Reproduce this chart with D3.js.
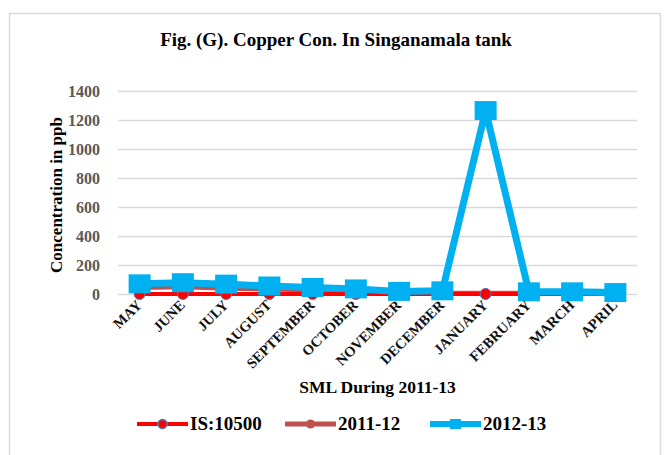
<!DOCTYPE html>
<html>
<head>
<meta charset="utf-8">
<script src="https://cdn.jsdelivr.net/npm/d3@7"></script>
<style>
body { margin: 0; background: #fff; }
text { font-family: "Liberation Serif", "Times New Roman", serif; font-weight: bold; }
</style>
</head>
<body>
<svg id="chart"></svg>
<script>
var width = 667;
var height = 455;

// data
var months = ["MAY","JUNE","JULY","AUGUST","SEPTEMBER","OCTOBER","NOVEMBER",
              "DECEMBER","JANUARY","FEBRUARY","MARCH","APRIL"];
var isLimit = [0.05,0.05,0.05,0.05,0.05,0.05,0.05,0.05,0.05,0.05,0.05,0.05];
var y2011 = [45,50,40,35,28,12,5,5,5,5,5,5];
var y2012 = [70,78,68,55,45,35,18,22,1265,15,15,10];
var yTicks = [0,200,400,600,800,1000,1200,1400];
var seriesNames = ["IS:10500","2011-12","2012-13"];
var seriesColors = ["#FF0000","#C0504D","#00B0F0"];

var margin = {left: 118, right: 30, top: 91, bottom: 161};

var svg = d3.select("#chart")
	.attr("width", width)
	.attr("height", height);

svg.append("rect")
	.attr("x", 9.5).attr("y", 13.5)
	.attr("width", 651).attr("height", 460)
	.attr("fill", "#fff")
	.attr("stroke", "#d9d9d9")
	.attr("stroke-width", 1.5);

var x = d3.scaleBand()
	.domain(months)
	.range([margin.left, width - margin.right]);

var y = d3.scaleLinear()
	.domain([0, 1400])
	.range([height - margin.bottom, margin.top]);

// gridlines
svg.append("g")
	.selectAll("line").data(yTicks).enter()
	.append("line")
	.attr("x1", margin.left).attr("x2", width - margin.right)
	.attr("y1", function(d) { return Math.round(y(d)) + 0.5; })
	.attr("y2", function(d) { return Math.round(y(d)) + 0.5; })
	.attr("stroke", "#d9d9d9")
	.attr("stroke-width", 1.5);

var yAxis = svg.append("g")
	.attr("transform", "translate(" + (margin.left - 15) + ",0)")
	.call(d3.axisLeft(y).tickValues(yTicks).tickSize(0).tickFormat(d3.format("d")));
yAxis.select(".domain").remove();
yAxis.selectAll("text")
	.attr("font-size", 16)
	.attr("fill", "#595959")
	.style("font-family", "Liberation Serif")
	.style("font-weight", "bold");

var xAxis = svg.append("g")
	.call(d3.axisBottom(x).tickSize(0));
xAxis.select(".domain").remove();
xAxis.selectAll(".tick").attr("transform", null);
xAxis.selectAll(".tick text")
	.attr("font-size", 14.5)
	.attr("fill", "#111")
	.style("font-family", "Liberation Serif")
	.style("font-weight", "bold")
	.attr("text-anchor", "end")
	.attr("x", null).attr("y", null).attr("dy", null)
	.attr("transform", function(d) {
		return "translate(" + (x(d) + x.bandwidth() / 2 + 3) + ",306) rotate(-45)";
	});

// titles
svg.append("text")
	.attr("x", 336).attr("y", 46)
	.attr("text-anchor", "middle")
	.attr("font-size", 19)
	.text("Fig. (G). Copper Con. In Singanamala tank");

svg.append("text")
	.attr("transform", "translate(62,195) rotate(-90)")
	.attr("text-anchor", "middle")
	.attr("font-size", 17)
	.text("Concentration in ppb");

svg.append("text")
	.attr("x", (margin.left + width - margin.right) / 2).attr("y", 393)
	.attr("text-anchor", "middle")
	.attr("font-size", 17.5)
	.text("SML During 2011-13");

var cx = function(d, i) { return x(months[i]) + x.bandwidth() / 2; };
var line = d3.line()
	.x(function(d, i) { return cx(d, i); })
	.y(function(d) { return y(d); });

// 2011-12
svg.append("path").datum(y2011)
	.attr("d", line).attr("fill", "none")
	.attr("stroke", "#C0504D").attr("stroke-width", 5)
	.attr("stroke-linejoin", "round");
svg.append("g").selectAll("circle").data(y2011).enter()
	.append("circle")
	.attr("cx", cx).attr("cy", function(d) { return y(d); })
	.attr("r", 5).attr("fill", "#C0504D");

// IS:10500
svg.append("path").datum(isLimit)
	.attr("d", line).attr("fill", "none")
	.attr("stroke", "#FF0000").attr("stroke-width", 4);
svg.append("g").selectAll("circle").data(isLimit).enter()
	.append("circle")
	.attr("cx", cx).attr("cy", function(d) { return y(d); })
	.attr("r", 5.5).attr("fill", "#FF0000")
	.attr("stroke", "#4F81BD").attr("stroke-width", 1);

// 2012-13
svg.append("path").datum(y2012)
	.attr("d", line).attr("fill", "none")
	.attr("stroke", "#00B0F0").attr("stroke-width", 7)
	.attr("stroke-linejoin", "round");
svg.append("g").selectAll("rect").data(y2012).enter()
	.append("rect")
	.attr("x", function(d, i) { return cx(d, i) - 11; })
	.attr("y", function(d) { return y(d) - 9.5; })
	.attr("width", 22).attr("height", 19)
	.attr("fill", "#00B0F0");

// legend
var legendX = [137, 285, 430];
var legend = svg.append("g").selectAll("g").data(seriesNames).enter()
	.append("g")
	.attr("transform", function(d, i) { return "translate(" + legendX[i] + ",424)"; });
legend.append("line")
	.attr("x1", 0).attr("x2", 51)
	.attr("stroke", function(d, i) { return seriesColors[i]; })
	.attr("stroke-width", function(d, i) { return [4,5,6][i]; });
legend.each(function(d, i) {
	var g = d3.select(this);
	if (i == 2) {
		g.append("rect").attr("x", 20).attr("y", -5).attr("width", 11).attr("height", 10)
		.attr("fill", "#00B0F0");
	} else {
		g.append("circle").attr("cx", 25.5).attr("r", 4.5)
		.attr("fill", seriesColors[i])
		.attr("stroke", i == 0 ? "#4F81BD" : "none").attr("stroke-width", 1.5);
	}
});
legend.append("text")
	.attr("x", 53).attr("y", 6)
	.attr("font-size", 19)
	.text(function(d) { return d; });
</script>
</body>
</html>
